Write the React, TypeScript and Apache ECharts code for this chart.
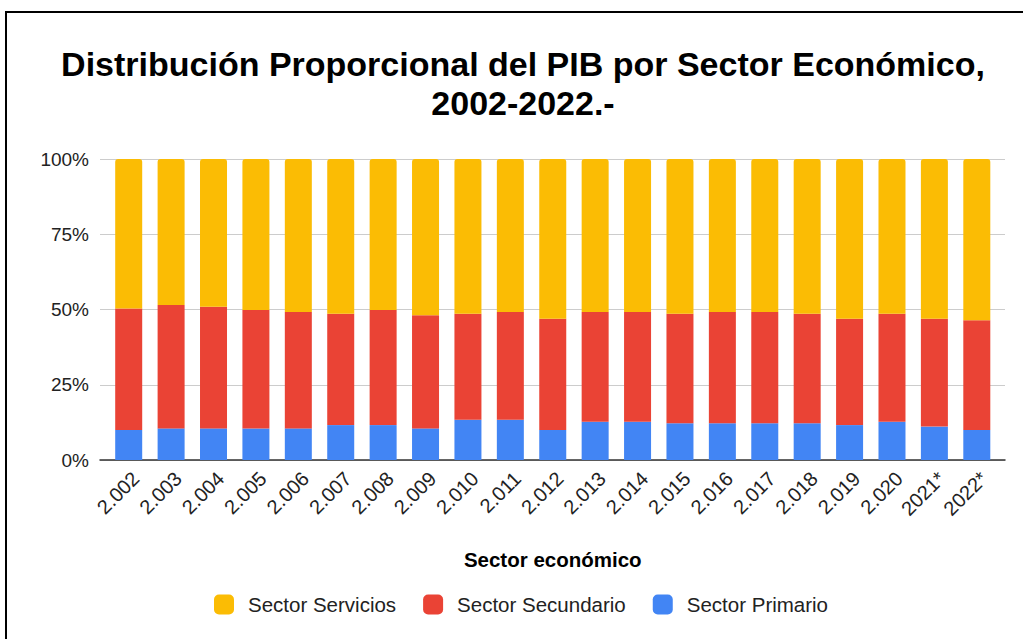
import React, { useEffect, useRef } from "react";
import * as echarts from "echarts";

const categories = ["2.002","2.003","2.004","2.005","2.006","2.007","2.008","2.009","2.010","2.011","2.012","2.013","2.014","2.015","2.016","2.017","2.018","2.019","2.020","2021*","2022*"];
const primario = [10.0,10.5,10.5,10.5,10.5,11.6,11.6,10.5,13.4,13.4,10.0,12.7,12.7,12.2,12.2,12.2,12.2,11.6,12.7,11.1,10.0];
const secundario = [40.3,41.0,40.4,39.3,38.7,37.0,38.2,37.6,35.2,35.8,36.9,36.5,36.5,36.4,37.0,37.0,36.4,35.3,35.9,35.8,36.4];
const servicios = [49.7,48.5,49.1,50.2,50.8,51.4,50.2,51.9,51.4,50.8,53.1,50.8,50.8,51.4,50.8,50.8,51.4,53.1,51.4,53.1,53.6];
const yTicks = [0, 25, 50, 75, 100];
const titleText = "Distribución Proporcional del PIB por Sector Económico,\n2002-2022.-";
const xName = "Sector económico";
const legendNames = ["Sector Servicios", "Sector Secundario", "Sector Primario"];

const FONT = "'Liberation Sans', Arial, sans-serif";

export default function App() {
  const ref = useRef<HTMLDivElement>(null);
  useEffect(() => {
    document.body.style.margin = "0";
    const chart = echarts.init(ref.current!, null, { renderer: "svg" });
    chart.setOption({
      animation: false,
      backgroundColor: "#ffffff",
      textStyle: { fontFamily: FONT },
      title: {
        text: titleText,
        left: 523,
        textAlign: "center",
        top: 44,
        padding: 0,
        textStyle: { fontSize: 34, fontWeight: "bold", color: "#000", lineHeight: 39, fontFamily: FONT },
      },
      graphic: [
        {
          type: "rect",
          shape: { x: 6, y: 12, width: 1100, height: 700 },
          style: { fill: "none", stroke: "#000", lineWidth: 2 },
          silent: true,
          z: 100,
        },
      ],
      legend: {
        data: legendNames,
        left: 214,
        top: 594,
        padding: 0,
        itemWidth: 20,
        itemHeight: 20,
        itemGap: 27,
        icon: "roundRect",
        textStyle: { fontSize: 20.5, color: "#222", fontFamily: FONT, padding: [0, 0, 0, 9] },
      },
      grid: [
        { left: 100, right: 18, top: 159, bottom: 179 },
        { left: 107.5, right: 25, top: 159, bottom: 179 },
      ],
      xAxis: [
        {
          gridIndex: 0,
          type: "value",
          min: 0,
          max: 1,
          axisLine: { show: true, onZero: false, lineStyle: { color: "#333", width: 1.5 } },
          axisTick: { show: false },
          axisLabel: { show: false },
          splitLine: { show: false },
        },
        {
          gridIndex: 1,
          type: "category",
          data: categories,
          axisLine: { show: false },
          axisTick: { show: false },
          axisLabel: {
            rotate: 45,
            fontSize: 20,
            color: "#222",
            margin: 8,
            interval: 0,
            verticalAlign: "top",
            fontFamily: FONT,
          },
          name: xName,
          nameLocation: "middle",
          nameGap: 89,
          nameTextStyle: { fontSize: 20.5, fontWeight: "bold", color: "#000", fontFamily: FONT },
        },
      ],
      yAxis: [
        {
          gridIndex: 0,
          type: "value",
          min: 0,
          max: 100,
          interval: 25,
          axisLine: { show: false },
          axisTick: { show: false },
          axisLabel: {
            fontSize: 19,
            color: "#222",
            margin: 11,
            fontFamily: FONT,
            formatter: (v: number) => (yTicks.includes(v) ? v + "%" : ""),
          },
          splitLine: { show: true, lineStyle: { color: "#cccccc", width: 1 } },
        },
        {
          gridIndex: 1,
          type: "value",
          min: 0,
          max: 100,
          interval: 25,
          axisLine: { show: false },
          axisTick: { show: false },
          axisLabel: { show: false },
          splitLine: { show: false },
        },
      ],
      series: [
        {
          name: "Sector Primario",
          type: "bar",
          stack: "total",
          xAxisIndex: 1,
          yAxisIndex: 1,
          data: primario,
          barWidth: 27,
          itemStyle: { color: "#4285f4" },
        },
        {
          name: "Sector Secundario",
          type: "bar",
          stack: "total",
          xAxisIndex: 1,
          yAxisIndex: 1,
          data: secundario,
          barWidth: 27,
          itemStyle: { color: "#ea4335" },
        },
        {
          name: "Sector Servicios",
          type: "bar",
          stack: "total",
          xAxisIndex: 1,
          yAxisIndex: 1,
          data: servicios,
          barWidth: 27,
          itemStyle: { color: "#fbbc04", borderRadius: [3, 3, 0, 0] },
        },
      ],
    });
    return () => chart.dispose();
  }, []);
  return <div ref={ref} style={{ width: 1023, height: 639 }} />;
}
